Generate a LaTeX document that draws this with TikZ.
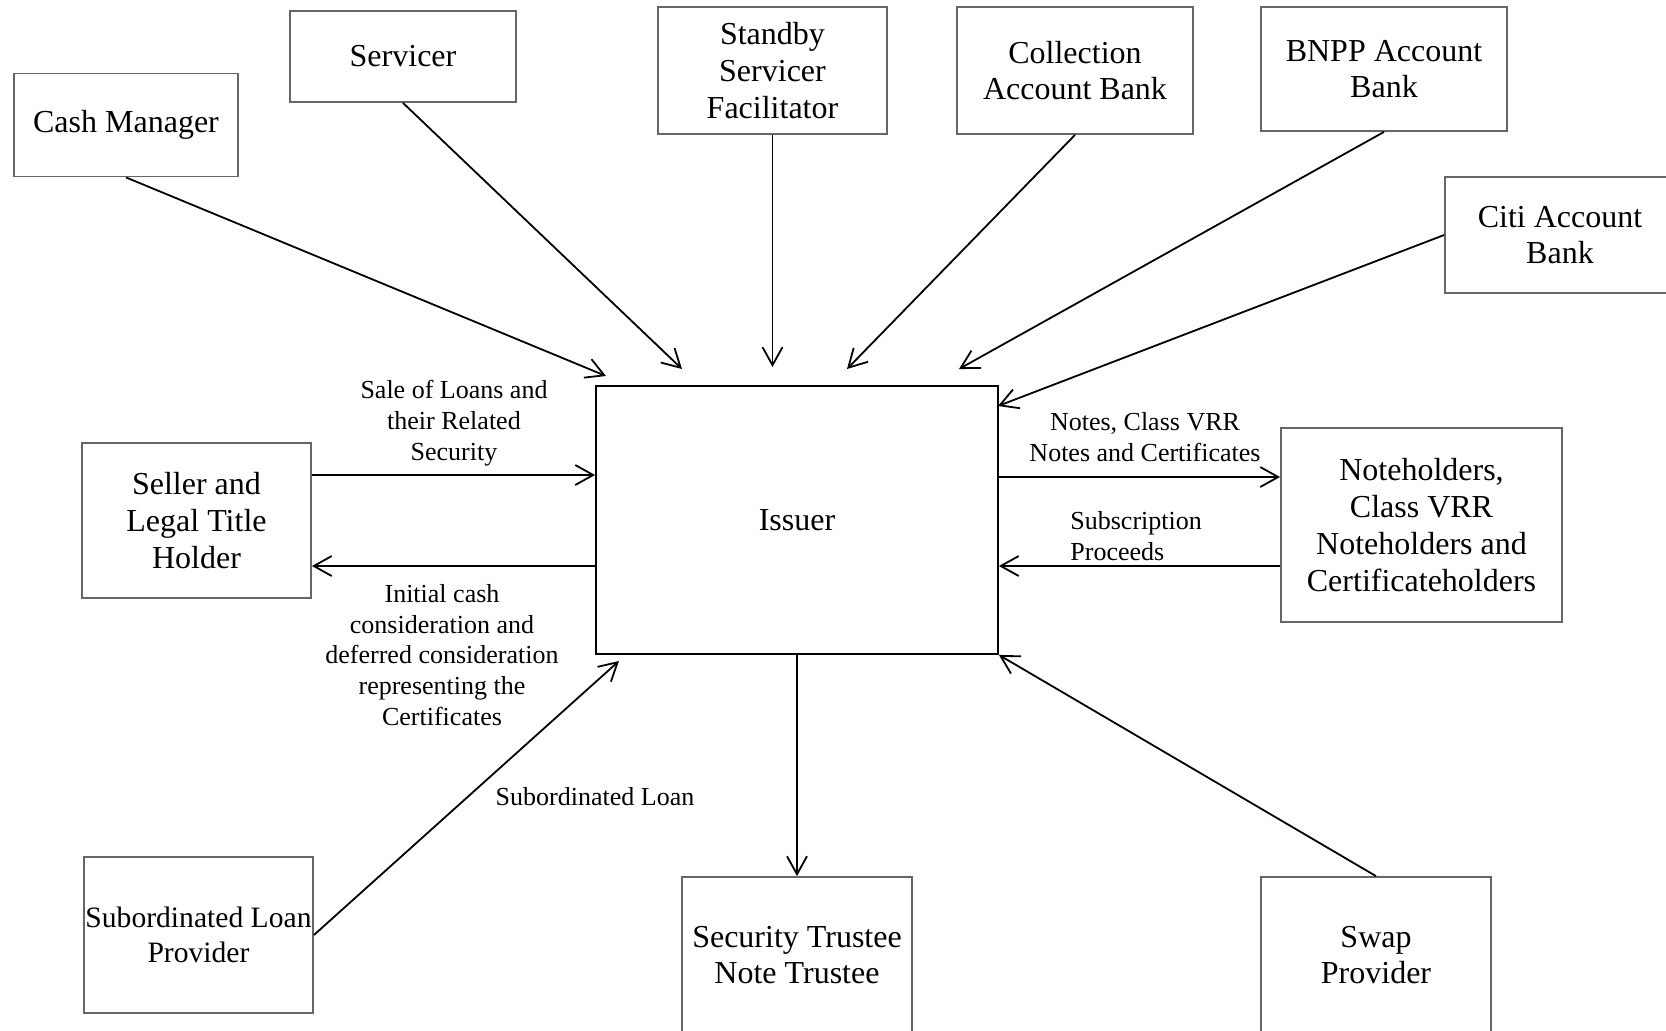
\documentclass[tikz,border=0pt]{standalone}
\usepackage{fontspec}
\setmainfont{Liberation Serif}
\usetikzlibrary{arrows.meta}

\begin{document}
\begin{tikzpicture}[x=0.5pt,y=-0.5pt,
  >={Straight Barb[length=9pt,width=10pt]},
  box/.style={draw=black!60, line width=0.9pt, align=center, inner sep=0pt,
    font=\fontsize{16}{18.4}\selectfont},
  lbl/.style={align=center, inner sep=0pt, font=\fontsize{13}{15.4}\selectfont},
  conn/.style={->, line width=0.9pt}]
\useasboundingbox (0,0) rectangle (1666,1030);
\node[box, minimum width=112pt, minimum height=51.5pt] (cash) at (126,125) {Cash Manager};
\node[box, minimum width=113pt, minimum height=45.5pt] (serv) at (403,56.5) {Servicer};
\node[box, minimum width=114.5pt, minimum height=63.5pt] (sbsf) at (772.5,70.5) {Standby\\Servicer\\Facilitator};
\node[box, minimum width=118pt, minimum height=63.5pt] (coll) at (1075,70.5) {Collection\\Account Bank};
\node[box, minimum width=123pt, minimum height=62pt] (bnpp) at (1384,69) {BNPP Account\\Bank};
\node[box, minimum width=115pt, minimum height=58pt] (citi) at (1560,235) {Citi Account\\Bank};
\node[box, draw=black, minimum width=201pt, minimum height=134pt] (iss) at (797,520) {Issuer};
\node[box, minimum width=114.5pt, minimum height=77.5pt] (seller) at (196.5,520.5) {Seller and\\Legal Title\\Holder};
\node[box, minimum width=140.5pt, minimum height=97pt] (noteh) at (1421.5,525) {Noteholders,\\Class VRR\\Noteholders and\\Certificateholders};
\node[box, minimum width=114.5pt, minimum height=78pt, font=\fontsize{14.8}{17.4}\selectfont] (subl) at (198.5,935) {Subordinated Loan\\Provider};
\node[box, minimum width=115pt, minimum height=78pt] (sectr) at (797,955) {Security Trustee\\Note Trustee};
\node[box, minimum width=115pt, minimum height=78pt] (swap) at (1376,955) {Swap\\Provider};

\coordinate (e1) at (606,376);
\coordinate (e2) at (682,369);
\coordinate (e3) at (772.5,367);
\coordinate (e4) at (847,369);
\coordinate (e5) at (959,369);
\coordinate (e6) at (998,406);
\coordinate (e7) at (619,661);

\draw[conn] (cash.south) -- (e1);
\draw[conn] (serv.south) -- (e2);
\draw[conn] (sbsf.south) -- (e3);
\draw[conn] (coll.south) -- (e4);
\draw[conn] (bnpp.south) -- (e5);
\draw[conn] (citi.west) -- (e6);
\draw[conn] (seller.east |- 0,475) -- (iss.west |- 0,475);
\draw[conn] (iss.west |- 0,566) -- (seller.east |- 0,566);
\draw[conn] (iss.east |- 0,477) -- (noteh.west |- 0,477);
\draw[conn] (noteh.west |- 0,566) -- (iss.east |- 0,566);
\draw[conn] (subl.east) -- (e7);
\draw[conn] (iss.south) -- (sectr.north);
\draw[conn] (swap.north) -- (iss.south east);

\node[lbl] (lsale) at (454,423) {Sale of Loans and\\their Related\\Security};
\node[lbl] (linit) at (442,655) {Initial cash\\consideration and\\deferred consideration\\representing the\\Certificates};
\node[lbl] (lnotes) at (1145,437) {Notes, Class VRR\\Notes and Certificates};
\node[lbl, align=left, anchor=west] (lsubs) at (1070,536) {Subscription\\Proceeds};
\node[lbl] (lsubl) at (595,797) {Subordinated Loan};
\end{tikzpicture}
\end{document}
